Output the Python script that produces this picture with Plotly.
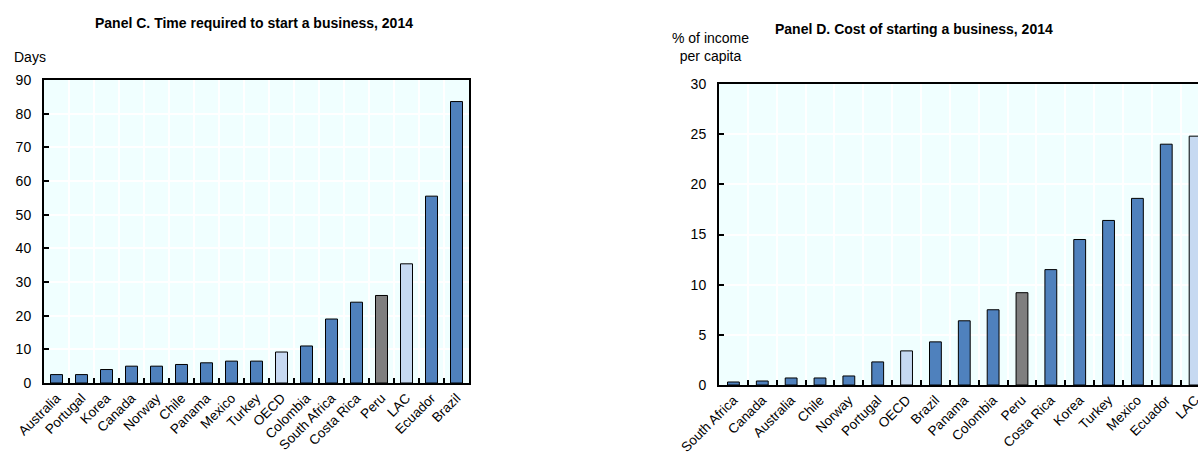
import plotly.graph_objects as go

# ---- Data ----
time_countries = ["Australia", "Portugal", "Korea", "Canada", "Norway", "Chile", "Panama",
                  "Mexico", "Turkey", "OECD", "Colombia", "South Africa", "Costa Rica",
                  "Peru", "LAC", "Ecuador", "Brazil"]
time_days = [2.5, 2.5, 4.0, 5.0, 5.0, 5.5, 6.0, 6.5, 6.5, 9.2, 11.0, 19.0, 24.0, 26.0, 35.4, 55.5, 83.6]

cost_countries = ["South Africa", "Canada", "Australia", "Chile", "Norway", "Portugal", "OECD",
                  "Brazil", "Panama", "Colombia", "Peru", "Costa Rica", "Korea", "Turkey",
                  "Mexico", "Ecuador", "LAC"]
cost_pct = [0.3, 0.4, 0.7, 0.7, 0.9, 2.3, 3.4, 4.3, 6.4, 7.5, 9.2, 11.5, 14.5, 16.4, 18.6, 24.0, 24.8]

title_c = "Panel C. Time required to start a business, 2014"
title_d = "Panel D. Cost of starting a business, 2014"
ytitle_c = "Days"
ytitle_d = "% of income<br>per capita"

# ---- Style ----
BASE = "#4F81BD"
LIGHT = "#C6D9F1"
GREY = "#7F7F7F"
special = {"OECD": LIGHT, "LAC": LIGHT, "Peru": GREY}
FONT = "Liberation Sans Narrow, Arial Narrow, Liberation Sans, Arial, sans-serif"
BG = "#F0FFFF"

def colors(cats):
    return [special.get(c, BASE) for c in cats]

fig = go.Figure()
fig.add_trace(go.Bar(x=time_countries, y=time_days, marker_color=colors(time_countries),
                     marker_line_color="black", marker_line_width=1, width=0.48,
                     xaxis="x", yaxis="y", showlegend=False))
fig.add_trace(go.Bar(x=cost_countries, y=cost_pct, marker_color=colors(cost_countries),
                     marker_line_color="black", marker_line_width=1, width=0.41,
                     xaxis="x2", yaxis="y2", showlegend=False))

W, H = 1198, 458
def px(x):
    return x / W
def py(y):
    return 1 - y / H

common_x = dict(type="category", tickson="boundaries", ticks="inside", ticklen=5,
                tickcolor="black", tickwidth=1.5, showgrid=True, gridcolor="white", gridwidth=1.5,
                showline=True, linecolor="black", linewidth=2, mirror=True, tickangle=-45,
                tickfont=dict(family=FONT, size=13.5, color="black"), fixedrange=True,
                automargin=False)
common_y = dict(ticks="inside", ticklen=5, tickcolor="black", tickwidth=1.5,
                showgrid=True, gridcolor="white", gridwidth=1.5, zeroline=False,
                showline=True, linecolor="black", linewidth=2,
                tickfont=dict(family=FONT, size=14, color="black"), fixedrange=True,
                ticklabelstandoff=8, automargin=False)

fig.update_layout(
    width=W, height=H, margin=dict(l=0, r=0, t=0, b=0),
    paper_bgcolor="white", plot_bgcolor=BG,
    xaxis=dict(domain=[px(44), px(469)], anchor="y", range=[-0.5, 16.5], **common_x),
    yaxis=dict(domain=[py(383), py(80)], anchor="x", range=[0, 90], dtick=10, mirror=True,
               **common_y),
    xaxis2=dict(domain=[px(719), 1.0], anchor="y2", range=[-0.5, 16.1], **common_x),
    yaxis2=dict(domain=[py(385), py(84)], anchor="x2", range=[0, 30], dtick=5, mirror=False,
                **common_y),
    bargap=0.5,
    annotations=[
        dict(text=f"<b>{title_c}</b>", x=px(254), y=py(23), xref="paper", yref="paper",
             showarrow=False, xanchor="center", yanchor="middle",
             font=dict(family=FONT, size=14, color="black")),
        dict(text=f"<b>{title_d}</b>", x=px(914), y=py(29), xref="paper", yref="paper",
             showarrow=False, xanchor="center", yanchor="middle",
             font=dict(family=FONT, size=14, color="black")),
        dict(text=ytitle_c, x=px(12), y=py(57), xref="paper", yref="paper",
             showarrow=False, xanchor="left", yanchor="middle",
             font=dict(family=FONT, size=14, color="black")),
        dict(text=ytitle_d + "", x=px(710), y=py(47), xref="paper", yref="paper",
             showarrow=False, xanchor="center", yanchor="middle", align="center",
             font=dict(family=FONT, size=14, color="black")),
    ],
)

fig.write_html("out.html", config={"displayModeBar": False},
               post_script="document.body.style.margin='0';document.body.style.overflow='hidden';")
